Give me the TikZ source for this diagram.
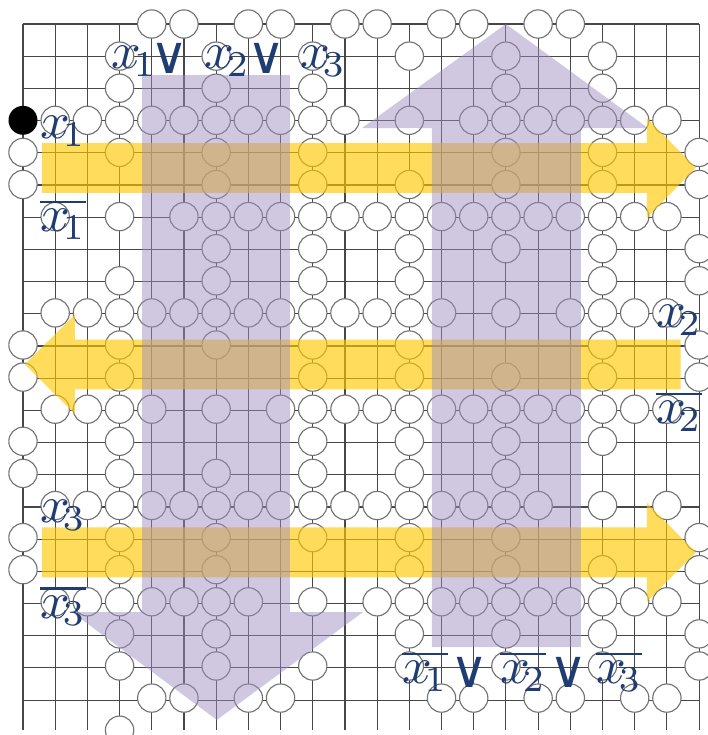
\documentclass[tikz,border=0pt]{standalone}
\usepackage{amsmath,amssymb}
\usepackage{fontspec}
\newfontfamily\orfont{DejaVu Sans}
\usetikzlibrary{calc}
\definecolor{varblue}{RGB}{31,61,115}
\definecolor{gold}{RGB}{255,200,0}
\definecolor{lilac}{RGB}{157,138,192}

\begin{document}
\begin{tikzpicture}[
    x=1cm, y=0.997cm,
    board/.style={draw=black!72, line width=1pt},
    stone/.style={draw=black!55, line width=1pt, fill=white},
    blackstone/.style={fill=black},
    wire/.style={fill=gold, fill opacity=0.64},
    clause/.style={fill=lilac, fill opacity=0.48},
    var/.style={text=varblue, scale=4.6, inner sep=0pt, anchor=base west},
    orsign/.style={text=varblue, font=\orfont, scale=4.6, inner sep=0pt},
]
\useasboundingbox (-0.714,0.748) rectangle (21.27,-22.15);

% ---------------------------------------------------------
% Board and stones
% ---------------------------------------------------------
\draw[board] (0,-22) grid (21,0);

\foreach \r/\cols in {
    0/{4,5,7,8,10,11,13,14,16,17},
    1/{3,6,9,12,15,18},
    2/{3,6,9,15,18},
    3/{1,...,10,12,14,15,...,20},
    4/{0,3,6,9,15,18,21},
    5/{0,6,9,12,15,18,21},
    6/{1,3,5,6,...,20},
    7/{6,9,12,15,18,21},
    8/{3,6,9,12,18,21},
    9/{1,...,13,15,17,18,19,20},
    10/{0,3,6,9,12,18,21},
    11/{0,3,9,12,15,18,21},
    12/{1,2,3,4,6,8,9,...,20},
    13/{0,3,9,12,15,18},
    14/{0,3,6,9,12,15},
    15/{1,...,16,18,20},
    16/{0,3,6,9,12,15,21},
    17/{0,3,6,12,15,18,21},
    18/{1,...,7,9,11,12,...,20},
    19/{3,6,12,15,18,21},
    20/{3,6,9,12,15,18,21},
    21/{4,5,7,8,13,14,16,17,19,20},
    22/{3}}
  {\foreach \c in \cols
     {\draw[stone] (\c,-\r) circle (0.44);}}

\fill[blackstone] (0,-3) circle (0.45);

% ---------------------------------------------------------
% Variable wires (yellow)
% ---------------------------------------------------------
\fill[wire] (0.59,-3.71) -- (19.38,-3.71) -- (19.38,-2.93) -- (20.9,-4.48)
  -- (19.38,-6.03) -- (19.38,-5.26) -- (0.59,-5.26) -- cycle;
\fill[wire] (20.43,-9.83) -- (1.61,-9.83) -- (1.61,-9.05) -- (0.06,-10.6)
  -- (1.61,-12.15) -- (1.61,-11.38) -- (20.43,-11.38) -- cycle;
\fill[wire] (0.59,-15.68) -- (19.38,-15.68) -- (19.38,-14.92) -- (20.9,-16.46)
  -- (19.38,-18.0) -- (19.38,-17.24) -- (0.59,-17.24) -- cycle;

% ---------------------------------------------------------
% Clause wires (purple)
% ---------------------------------------------------------
\fill[clause] (3.70,-1.59) -- (8.29,-1.59) -- (8.29,-18.32) -- (10.56,-18.32)
  -- (6.02,-21.68) -- (1.52,-18.32) -- (3.70,-18.32) -- cycle;
\fill[clause] (12.70,-19.41) -- (17.33,-19.41) -- (17.33,-3.24) -- (19.41,-3.24)
  -- (15.0,0) -- (10.53,-3.24) -- (12.70,-3.24) -- cycle;

% ---------------------------------------------------------
% Labels
% ---------------------------------------------------------
\node[var] (cx1) at (2.71,-1.38) {$x_{\mkern-3mu1}$};
\node[orsign] (cor1) at (4.56,-1.06) {∨};
\node[var] (cx2) at (5.60,-1.38) {$x_{\mkern-3mu2}$};
\node[orsign] (cor2) at (7.58,-1.06) {∨};
\node[var] (cx3) at (8.58,-1.38) {$x_{\mkern-3mu3}$};

\node[var] (vx1) at (0.50,-3.56) {$x_{\mkern-3mu1}$};
\node[var] (vnx1) at (0.50,-6.46) {$\overline{x_{\mkern-3mu1}}$};
\node[var] (vx2) at (19.63,-9.45) {$x_{\mkern-3mu2}$};
\node[var] (vnx2) at (19.63,-12.44) {$\overline{x_{\mkern-3mu2}}$};
\node[var] (vx3) at (0.50,-15.52) {$x_{\mkern-3mu3}$};
\node[var] (vnx3) at (0.50,-18.51) {$\overline{x_{\mkern-3mu3}}$};

\node[var] (dnx1) at (11.74,-20.54) {$\overline{x_{\mkern-3mu1}}$};
\node[orsign] (dor1) at (13.88,-20.19) {∨};
\node[var] (dnx2) at (14.79,-20.54) {$\overline{x_{\mkern-3mu2}}$};
\node[orsign] (dor2) at (16.93,-20.19) {∨};
\node[var] (dnx3) at (17.77,-20.54) {$\overline{x_{\mkern-3mu3}}$};

\end{tikzpicture}
\end{document}
